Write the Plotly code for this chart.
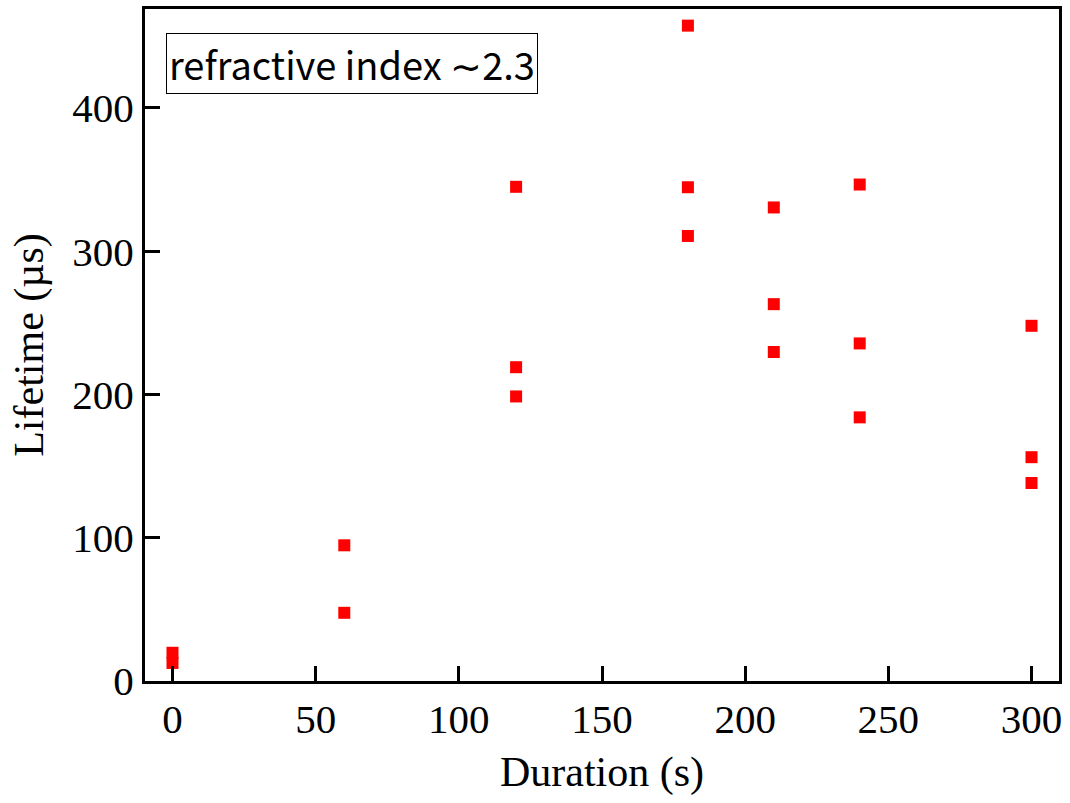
import plotly.graph_objects as go

duration = [0, 0, 60, 60, 120, 120, 120, 180, 180, 180, 210, 210, 210, 240, 240, 240, 300, 300, 300]
lifetime = [19.7, 12.6, 94.7, 47.6, 344.9, 219.0, 198.6, 457.4, 344.6, 310.6,
            330.5, 263.0, 229.6, 346.5, 235.6, 184.0, 247.9, 156.2, 138.2]

x_ticks = [0, 50, 100, 150, 200, 250, 300]
y_ticks = [0, 100, 200, 300, 400]

fig = go.Figure()
fig.add_trace(go.Scatter(
    x=duration, y=lifetime, mode="markers",
    marker=dict(symbol="square", size=12, color="#ff0000", line=dict(width=0)),
    showlegend=False,
))

axis_common = dict(
    showline=True, linecolor="black", linewidth=3, mirror=True,
    ticks="inside", ticklen=15, tickwidth=3, tickcolor="black",
    showgrid=False, zeroline=False,
    tickfont=dict(family="Liberation Serif", size=41, color="black"),
)

fig.update_xaxes(
    range=[-9.6, 309.6], tickvals=x_ticks,
    title=dict(text="Duration (s)", font=dict(family="Liberation Serif", size=42, color="black"), standoff=16),
    **axis_common,
)
fig.update_yaxes(
    range=[0, 469], tickvals=y_ticks,
    title=dict(text="Lifetime (µs)", font=dict(family="Liberation Serif", size=42, color="black"), standoff=16),
    **axis_common,
)

fig.add_annotation(
    xref="paper", yref="paper", x=0.0226, y=0.9645,
    xanchor="left", yanchor="top", showarrow=False,
    text="refractive index ∼2.3",
    font=dict(family="Noto Sans CJK JP", size=38, color="black"),
    bordercolor="black", borderwidth=1, borderpad=2, bgcolor="white",
)

fig.update_layout(
    width=1070, height=803,
    margin=dict(l=145, r=11, t=6, b=122),
    plot_bgcolor="white", paper_bgcolor="white",
)

fig.write_html("out.html", config={"displayModeBar": False},
               post_script="document.body.style.margin='0';")
